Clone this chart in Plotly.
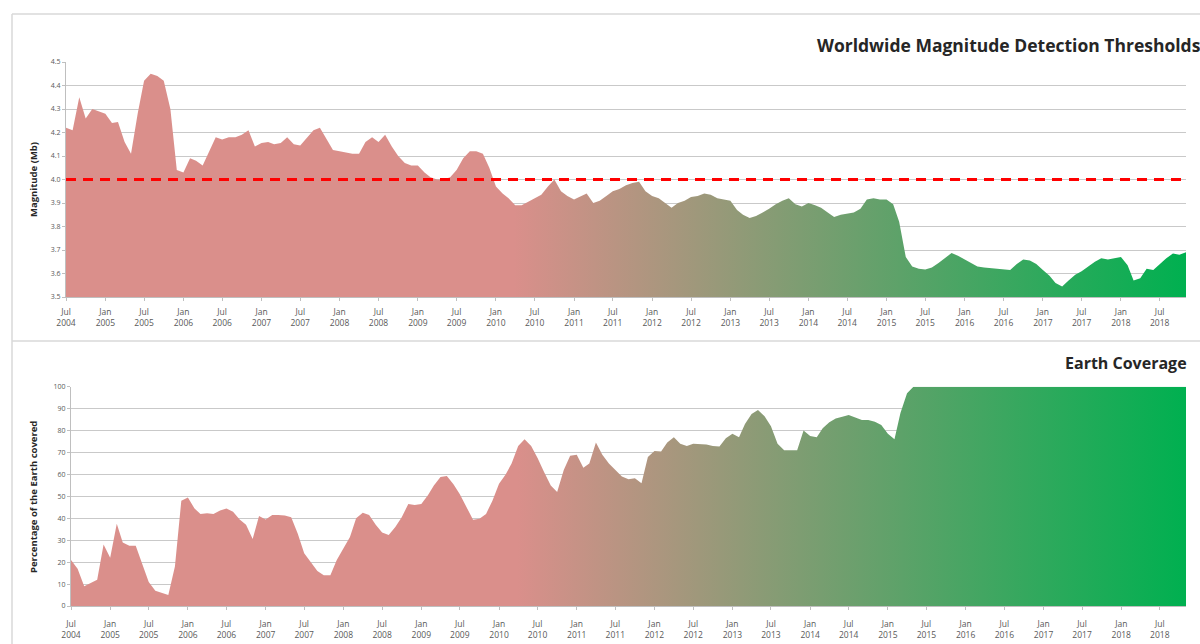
import pandas as pd
import plotly.graph_objects as go

# ---------------- data ----------------
months = pd.date_range("2004-07-01", "2018-11-01", freq="MS")

magnitude = [
    4.22, 4.21, 4.35, 4.26, 4.30, 4.29, 4.28, 4.24, 4.245, 4.16,
    4.11, 4.28, 4.42, 4.45, 4.44, 4.42, 4.30, 4.04, 4.03, 4.09,
    4.08, 4.06, 4.12, 4.18, 4.17, 4.18, 4.18, 4.19, 4.21, 4.14,
    4.155, 4.16, 4.15, 4.155, 4.18, 4.15, 4.145, 4.18, 4.21, 4.22,
    4.17, 4.125, 4.12, 4.115, 4.11, 4.11, 4.16, 4.18, 4.16, 4.19,
    4.14, 4.10, 4.07, 4.06, 4.06, 4.03, 4.01, 4.00, 4.00, 4.01,
    4.04, 4.09, 4.12, 4.12, 4.11, 4.05, 3.97, 3.94, 3.92, 3.89,
    3.89, 3.905, 3.92, 3.935, 3.97, 4.00, 3.95, 3.93, 3.915, 3.93,
    3.94, 3.90, 3.91, 3.93, 3.95, 3.96, 3.975, 3.985, 3.99, 3.95,
    3.93, 3.92, 3.90, 3.88, 3.90, 3.91, 3.925, 3.93, 3.94, 3.935,
    3.92, 3.915, 3.91, 3.87, 3.85, 3.836, 3.845, 3.86, 3.875, 3.895,
    3.91, 3.92, 3.895, 3.885, 3.90, 3.89, 3.88, 3.86, 3.84, 3.85,
    3.855, 3.86, 3.875, 3.915, 3.92, 3.915, 3.915, 3.895, 3.82, 3.67,
    3.63, 3.62, 3.617, 3.625, 3.645, 3.665, 3.687, 3.675, 3.66, 3.645,
    3.63, 3.625, 3.622, 3.62, 3.618, 3.615, 3.64, 3.66, 3.655, 3.64,
    3.615, 3.59, 3.56, 3.545, 3.57, 3.595, 3.61, 3.63, 3.65, 3.665,
    3.66, 3.665, 3.67, 3.635, 3.57, 3.58, 3.62, 3.615, 3.64, 3.665,
    3.685, 3.68, 3.69,
]

coverage = [
    21, 17, 9, 10.5, 12, 28, 22, 37.5, 29, 27.5,
    27.5, 19, 11, 7, 6, 5, 18, 48, 49.5, 44.5,
    42, 42.3, 42, 43.5, 44.5, 43, 39.5, 37, 30.5, 41,
    39.5, 41.5, 41.5, 41.3, 40.5, 33, 24, 19.8, 16, 14,
    14, 21, 26, 31.5, 40, 42.5, 41.5, 37, 33.5, 32.4,
    36, 40.5, 46.5, 46, 46.5, 50.5, 55, 58.8, 59.3, 55.5,
    51, 45, 39.3, 39.8, 42, 48, 55.8, 60, 65, 73,
    76, 73, 67.5, 61, 55, 52, 62, 68.5, 69, 63,
    65, 74.5, 69, 65, 62, 59, 57.8, 58.2, 56, 68,
    70.7, 70.5, 74.5, 77, 74, 73, 74, 74, 73.7, 73,
    72.7, 76.5, 78.5, 77, 83, 87.5, 89.4, 86.5, 82, 74,
    71, 71, 71, 80, 77.5, 77, 81, 83.8, 85.5, 86.3,
    87.1, 86, 84.8, 84.8, 84, 82.5, 78.5, 76, 88, 97,
    100, 100, 100, 100, 100, 100, 100, 100, 100, 100,
    100, 100, 100, 100, 100, 100, 100, 100, 100, 100,
    100, 100, 100, 100, 100, 100, 100, 100, 100, 100,
    100, 100, 100, 100, 100, 100, 100, 100, 100, 100,
    100, 100, 100,
]

tick_labels = [
    "Jul 2004", "Jan 2005", "Jul 2005", "Jan 2006", "Jul 2006", "Jan 2007",
    "Jul 2007", "Jan 2008", "Jul 2008", "Jan 2009", "Jul 2009", "Jan 2010",
    "Jul 2010", "Jan 2011", "Jul 2011", "Jan 2012", "Jul 2012", "Jan 2013",
    "Jul 2013", "Jan 2014", "Jul 2014", "Jan 2015", "Jul 2015", "Jan 2016",
    "Jul 2016", "Jan 2017", "Jul 2017", "Jan 2018", "Jul 2018",
]

threshold = 4.0
title_top = "Worldwide Magnitude Detection Thresholds"
title_bottom = "Earth Coverage"
ytitle_top = "Magnitude (Mb)"
ytitle_bottom = "Percentage of the Earth covered"

# ---------------- styling ----------------
W, H = 1200, 644
SALMON = "#DA8F8B"
GREEN = "#00B050"
grad = [[0.0, SALMON], [0.4, SALMON], [1.0, GREEN]]
GRID = "#C9C9C9"
AX = "#BFBFBF"
TXT = "#595959"
FONT = "Open Sans"

tick_dates = pd.to_datetime(tick_labels, format="%b %Y")
tick_text = [s.replace(" ", "<br>") for s in tick_labels]


def fx(p):
    return p / W


def fy(p):
    return 1 - p / H


fig = go.Figure()
fig.add_trace(go.Scatter(
    x=months, y=magnitude, mode="lines", fill="tozeroy",
    line=dict(width=0, color=SALMON),
    fillgradient=dict(type="horizontal", colorscale=grad),
    xaxis="x", yaxis="y", hoverinfo="skip", showlegend=False))
fig.add_trace(go.Scatter(
    x=months, y=coverage, mode="lines", fill="tozeroy",
    line=dict(width=0, color=SALMON),
    fillgradient=dict(type="horizontal", colorscale=grad),
    xaxis="x2", yaxis="y2", hoverinfo="skip", showlegend=False))

fig.add_shape(type="line", xref="x domain", x0=0, x1=1, yref="y",
              y0=threshold, y1=threshold,
              line=dict(color="#FF0000", width=3, dash="10px,7px"))

xcommon = dict(type="date", range=[months[0], months[-1]],
               tickmode="array", tickvals=tick_dates, ticktext=tick_text,
               tickangle=0, tickfont=dict(size=8.5, color=TXT, family=FONT),
               ticks="outside", ticklen=3, tickcolor=AX, showgrid=False,
               showline=True, linecolor=AX, linewidth=1, zeroline=False,
               automargin=False)
ycommon = dict(tickfont=dict(size=7, color=TXT, family=FONT),
               ticks="outside", ticklen=3, tickcolor=AX,
               showgrid=True, gridcolor=GRID, gridwidth=1,
               showline=True, linecolor=AX, zeroline=False,
               automargin=False)

fig.update_layout(
    width=W, height=H, margin=dict(l=0, r=0, t=0, b=0, autoexpand=False),
    paper_bgcolor="white", plot_bgcolor="white",
    font=dict(family=FONT, color=TXT),
    xaxis=dict(domain=[fx(66), fx(1186)], anchor="y",
               ticklabelstandoff=4, **xcommon),
    yaxis=dict(domain=[fy(297), fy(62)], anchor="x", range=[3.5, 4.5],
               dtick=0.1, tickformat=".1f", **ycommon),
    xaxis2=dict(domain=[fx(71), fx(1186)], anchor="y2",
                ticklabelstandoff=7, **xcommon),
    yaxis2=dict(domain=[fy(606), fy(386.7)], anchor="x2", range=[0, 100],
                dtick=10, **ycommon),
)

annotations = [
    dict(text="<b>" + title_top + "</b>", x=fx(815), y=fy(45),
         xanchor="left", yanchor="middle",
         font=dict(size=17.5, color="#262626", family=FONT)),
    dict(text="<b>" + title_bottom + "</b>", x=fx(1189), y=fy(363),
         xanchor="right", yanchor="middle",
         font=dict(size=16, color="#262626", family=FONT)),
    dict(text="<b>" + ytitle_top + "</b>", x=fx(34), y=fy(180),
         xanchor="center", yanchor="middle", textangle=-90,
         font=dict(size=9.5, color="#262626", family=FONT)),
    dict(text="<b>" + ytitle_bottom + "</b>", x=fx(33), y=fy(497),
         xanchor="center", yanchor="middle", textangle=-90,
         font=dict(size=9.5, color="#262626", family=FONT)),
]
for a in annotations:
    a.update(xref="paper", yref="paper", showarrow=False)
fig.update_layout(annotations=annotations)

# panel frames
frame = dict(color="#D9D9D9", width=1.5)
fig.add_shape(type="line", xref="paper", yref="paper",
              x0=fx(12), x1=1, y0=fy(14), y1=fy(14), line=frame)
fig.add_shape(type="line", xref="paper", yref="paper",
              x0=fx(12), x1=fx(12), y0=fy(14), y1=0, line=frame)
fig.add_shape(type="line", xref="paper", yref="paper",
              x0=fx(12), x1=1, y0=fy(341), y1=fy(341), line=frame)

fig.write_html("out.html", config={"displayModeBar": False},
               post_script="document.body.style.margin='0';"
                           "document.body.style.overflow='hidden';")
